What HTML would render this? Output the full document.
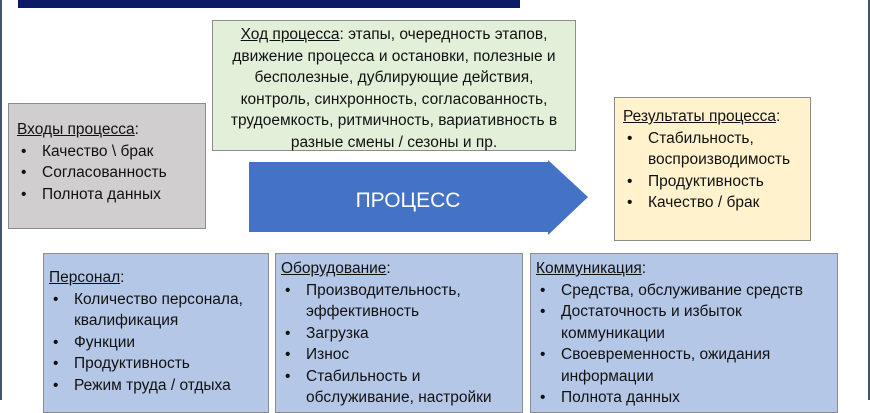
<!DOCTYPE html>
<html><head><meta charset="utf-8"><style>
body{margin:0;width:870px;height:400px;overflow:hidden;background:#fff;position:relative;font-family:"Liberation Sans","Noto Sans CJK SC",sans-serif;font-size:15.5px;color:#111;}
.b{position:absolute;box-sizing:border-box;border:1px solid #8c8c8c;line-height:21.5px;white-space:nowrap;}
u{text-decoration:underline;}
ul{margin:0;padding:0;list-style:none;}
li{position:relative;padding-left:25px;}
li:before{content:"•";position:absolute;left:4px;}
</style></head><body>
<div style="position:absolute;left:0;top:0;width:2px;height:400px;background:#44546a"></div>
<div style="position:absolute;right:0;top:0;width:2px;height:400px;background:#44546a"></div>
<div style="position:absolute;left:18px;top:0;width:502px;height:8px;background:#0d1a66;overflow:hidden;"></div>

<div class="b" style="left:212px;top:20px;width:364px;height:131px;background:#e2efd9;text-align:center;padding-top:3px;line-height:21.5px"><u>Ход процесса</u>: этапы, очередность этапов,<br>движение процесса и остановки, полезные и<br>бесполезные, дублирующие действия,<br>контроль, синхронность, согласованность,<br>трудоемкость, ритмичность, вариативность в<br>разные смены / сезоны и пр.</div>

<div class="b" style="left:8px;top:103px;width:198px;height:126px;background:#d0cece;padding:15px 0 0 8px"><u>Входы процесса</u>:<ul><li>Качество \ брак</li><li>Согласованность</li><li>Полнота данных</li></ul></div>

<svg style="position:absolute;left:0;top:0" width="870" height="400"><polygon points="249,162 548,162 548,160 588,197 548,235 548,232 249,232" fill="#4472c4"/><text x="408" y="207" fill="#fff" font-family="Liberation Sans,sans-serif" font-size="21" text-anchor="middle">ПРОЦЕСС</text></svg>

<div class="b" style="left:614px;top:97px;width:197px;height:144px;background:#fff2cc;padding:8px 0 0 8px"><u>Результаты процесса</u>:<ul><li>Стабильность,<br>воспроизводимость</li><li>Продуктивность</li><li>Качество / брак</li></ul></div>

<div class="b" style="left:43px;top:253px;width:226px;height:160px;background:#b4c7e7;padding:13px 0 0 5px"><u>Персонал</u>:<ul><li>Количество персонала,<br>квалификация</li><li>Функции</li><li>Продуктивность</li><li>Режим труда / отдыха</li></ul></div>

<div class="b" style="left:275px;top:253px;width:248px;height:160px;background:#b4c7e7;padding:4px 0 0 5px"><u>Оборудование</u>:<ul><li>Производительность,<br>эффективность</li><li>Загрузка</li><li>Износ</li><li>Стабильность и<br>обслуживание, настройки</li></ul></div>

<div class="b" style="left:530px;top:253px;width:308px;height:160px;background:#b4c7e7;padding:4px 0 0 5px"><u>Коммуникация</u>:<ul><li>Средства, обслуживание средств</li><li>Достаточность и избыток<br>коммуникации</li><li>Своевременность, ожидания<br>информации</li><li>Полнота данных</li></ul></div>
</body></html>
